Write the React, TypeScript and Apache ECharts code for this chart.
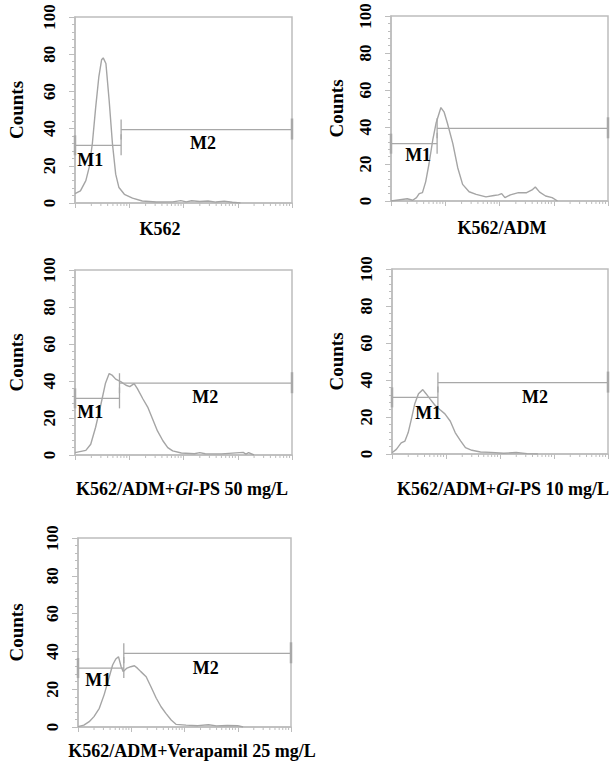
import React, { useEffect, useRef } from "react";
import * as echarts from "echarts";

// x values: log10 fluorescence (decades 0..4); y values: counts
const k562X = [0, 0.1, 0.2, 0.26, 0.32, 0.38, 0.44, 0.49, 0.52, 0.57, 0.63, 0.69, 0.75, 0.81, 0.91, 1.06, 1.24, 1.5, 1.8, 1.95, 2.05, 2.15, 2.3, 2.45, 2.6, 2.75, 2.9, 3.05];
const k562Y = [5, 6.5, 12, 19, 32, 51, 68, 77, 78, 75, 55, 32, 15.5, 8.3, 4.7, 2.6, 1.1, 0.5, 0.6, 1.3, 0.6, 1.2, 0.8, 1.1, 0.5, 1, 0.4, 0];

const admX = [0, 0.2, 0.3, 0.4, 0.47, 0.52, 0.58, 0.64, 0.7, 0.77, 0.83, 0.92, 0.98, 1.04, 1.14, 1.23, 1.32, 1.44, 1.57, 1.75, 1.9, 1.98, 2.04, 2.1, 2.2, 2.35, 2.5, 2.6, 2.66, 2.74, 2.85, 2.97, 3.07];
const admY = [0, 0.8, 1.2, 0.4, 1.8, 4, 4.5, 10.5, 20, 33, 42, 50.5, 48, 42, 31, 18, 9, 5, 3.6, 2.2, 3, 3.3, 4, 1.8, 3.3, 4.5, 4.5, 6, 7.6, 4.8, 2.7, 1.8, 0];

const gl50X = [0, 0.2, 0.29, 0.38, 0.48, 0.56, 0.63, 0.69, 0.75, 0.85, 0.94, 1.01, 1.09, 1.15, 1.25, 1.34, 1.43, 1.52, 1.62, 1.71, 1.8, 1.96, 2.2, 2.3, 2.4, 2.7, 3.1, 3.15, 3.2, 3.3];
const gl50Y = [1.3, 2.5, 5.8, 15, 27.7, 38.6, 44, 43, 41, 39.5, 37.7, 37, 38.6, 35.9, 30.4, 25.9, 19.5, 13, 7.7, 4, 2.2, 1.1, 0.7, 1.3, 0.7, 0.6, 1.4, 0.5, 1.3, 0];

const gl10X = [0, 0.08, 0.17, 0.24, 0.3, 0.36, 0.42, 0.49, 0.57, 0.63, 0.7, 0.8, 0.89, 0.98, 1.08, 1.17, 1.27, 1.36, 1.48, 1.64, 1.83, 2.07, 2.3, 2.5, 2.7];
const gl10Y = [0.7, 2.5, 6, 7, 11.6, 19, 27, 32.6, 34.8, 32.6, 29.9, 26.2, 23.9, 21.7, 17.7, 11.6, 7.1, 3.4, 2, 1.1, 0.9, 0.4, 0.8, 0.2, 0];

const verX = [0, 0.11, 0.21, 0.3, 0.4, 0.49, 0.58, 0.65, 0.71, 0.76, 0.81, 0.85, 0.91, 0.99, 1.06, 1.12, 1.18, 1.28, 1.37, 1.47, 1.56, 1.65, 1.75, 1.84, 2.03, 2.25, 2.45, 2.6, 2.8, 3.0, 3.1];
const verY = [0.2, 1, 2.8, 5.5, 9.9, 17, 25.8, 32.8, 36, 37.2, 31.9, 29.3, 31, 31.9, 32.4, 31, 29.3, 26.6, 21.3, 15.2, 10.7, 7.2, 3.7, 1.4, 1, 0.7, 1.2, 0.6, 0.8, 0.7, 0];

// gate markers: [from, to, level]
const k562Gates = [[0, 0.85, 31], [0.85, 4, 39.5]];
const admGates = [[0, 0.85, 31], [0.85, 4, 39.3]];
const gl50Gates = [[0, 0.82, 30.6], [0.82, 4, 38.8]];
const gl10Gates = [[0, 0.85, 30.6], [0.85, 4, 38.6]];
const verGates = [[0, 0.86, 31.2], [0.86, 4, 39]];
const gateNames = ["M1", "M2"];

const decades = [0, 1, 2, 3];
const minorMultipliers = [2, 3, 4, 5, 6, 7, 8, 9];

const FONT = '"Liberation Serif", "Times New Roman", serif';
const FRAME = "#bdbdbd";
const CURVE = "#a5a5a5";
const MARK = "#a8a8a8";

const panels = [
  { grid: { left: 75, top: 17, width: 217, height: 186 }, x: k562X, y: k562Y, gates: k562Gates,
    labelPos: [[0.28, 23.1], [2.36, 32.3]], showM2: true, nameGap: 49,
    title: "{b|K562}", titlePos: [160, 229] },
  { grid: { left: 391, top: 16, width: 217, height: 185 }, x: admX, y: admY, gates: admGates,
    labelPos: [[0.5, 24.9], [2.4, 31]], showM2: false, nameGap: 45,
    title: "{b|K562/ADM}", titlePos: [502, 228] },
  { grid: { left: 75, top: 270, width: 217, height: 185 }, x: gl50X, y: gl50Y, gates: gl50Gates,
    labelPos: [[0.28, 23.2], [2.4, 31.4]], showM2: true, nameGap: 49,
    title: "{b|K562/ADM+}{i|Gl}{b|-PS 50 mg/L}", titlePos: [182, 489] },
  { grid: { left: 392, top: 269, width: 216, height: 185 }, x: gl10X, y: gl10Y, gates: gl10Gates,
    labelPos: [[0.67, 22.2], [2.65, 30.8]], showM2: true, nameGap: 46,
    title: "{b|K562/ADM+}{i|Gl}{b|-PS 10 mg/L}", titlePos: [503, 489] },
  { grid: { left: 78, top: 538, width: 213, height: 189 }, x: verX, y: verY, gates: verGates,
    labelPos: [[0.38, 24.9], [2.4, 31.2]], showM2: true, nameGap: 52,
    title: "{b|K562/ADM+Verapamil 25 mg/L}", titlePos: [192, 751] },
];

const richStyles = {
  b: { fontFamily: FONT, fontWeight: "bold", fontSize: 18, fill: "#000" },
  i: { fontFamily: FONT, fontWeight: "bold", fontStyle: "italic", fontSize: 18, fill: "#000" },
};

export default function App() {
  const ref = useRef<HTMLDivElement>(null);
  useEffect(() => {
    if (!ref.current) return;
    const chart = echarts.init(ref.current, null, { renderer: "svg" });
    const minorPositions = decades.flatMap((d) => minorMultipliers.map((k) => d + Math.log10(k)));

    const series: any[] = [];
    panels.forEach((p, i) => {
      series.push({
        type: "line",
        xAxisIndex: i,
        yAxisIndex: i,
        data: p.x.map((v, j) => [v, p.y[j]]),
        showSymbol: false,
        symbol: "none",
        lineStyle: { color: CURVE, width: 1.4 },
        z: 3,
      });
      series.push({
        type: "custom",
        xAxisIndex: i,
        yAxisIndex: i,
        clip: false,
        silent: true,
        data: minorPositions.map((v) => [v, 0]),
        renderItem: (params: any, api: any) => {
          const pt = api.coord([api.value(0), 0]);
          return {
            type: "line",
            shape: { x1: pt[0], y1: pt[1], x2: pt[0], y2: pt[1] + 3 },
            style: { stroke: FRAME, lineWidth: 1 },
          };
        },
      });
      series.push({
        type: "custom",
        xAxisIndex: i,
        yAxisIndex: i,
        clip: false,
        silent: true,
        data: p.gates.map((g, j) => [g[0], g[1], g[2], p.labelPos[j][0], p.labelPos[j][1]]),
        renderItem: (params: any, api: any) => {
          const idx = params.dataIndex;
          const from = api.value(0);
          const to = api.value(1);
          const level = api.value(2);
          const a = api.coord([from, level]);
          const b = api.coord([to, level]);
          const lp = api.coord([api.value(3), api.value(4)]);
          const children: any[] = [
            { type: "line", shape: { x1: a[0], y1: a[1], x2: b[0], y2: b[1] }, style: { stroke: MARK, lineWidth: 1.3 } },
            { type: "line", shape: { x1: a[0], y1: a[1] - 10, x2: a[0], y2: a[1] + 10 }, style: { stroke: MARK, lineWidth: from === 0 ? 2.5 : 1.3 } },
            { type: "line", shape: { x1: b[0], y1: b[1] - 11, x2: b[0], y2: b[1] + 10 }, style: { stroke: MARK, lineWidth: to === 4 ? 2.5 : 1.3 } },
          ];
          if (idx === 0 || p.showM2) {
            children.push({
              type: "text",
              x: lp[0],
              y: lp[1],
              style: {
                text: gateNames[idx],
                font: `bold 18px ${FONT}`,
                fill: "#000",
                align: "center",
                verticalAlign: "middle",
              },
            });
          }
          return { type: "group", children };
        },
        z: 4,
      });
    });

    const option: any = {
      animation: false,
      backgroundColor: "#fff",
      grid: panels.map((p) => ({ ...p.grid, show: true, borderColor: FRAME, borderWidth: 1.5, backgroundColor: "transparent" })),
      xAxis: panels.map((p, i) => ({
        gridIndex: i,
        type: "value",
        min: 0,
        max: 4,
        interval: 1,
        axisLine: { show: true, lineStyle: { color: FRAME, width: 1.5 } },
        axisTick: { show: true, length: 5, lineStyle: { color: FRAME, width: 1 } },
        axisLabel: { show: false },
        splitLine: { show: false },
      })),
      yAxis: panels.map((p, i) => ({
        gridIndex: i,
        type: "value",
        min: 0,
        max: 100,
        interval: 20,
        name: "Counts",
        nameLocation: "middle",
        nameRotate: 90,
        nameGap: p.nameGap,
        nameTextStyle: { fontFamily: FONT, fontWeight: "bold", fontSize: 19, color: "#000" },
        axisLine: { show: true, lineStyle: { color: FRAME, width: 1.5 } },
        axisTick: { show: true, length: 6, lineStyle: { color: FRAME, width: 1 } },
        minorTick: { show: true, splitNumber: 5, length: 3, lineStyle: { color: FRAME, width: 1 } },
        axisLabel: {
          show: true,
          rotate: 90,
          margin: 17,
          fontFamily: FONT,
          fontWeight: "bold",
          fontSize: 17,
          color: "#000",
        },
        splitLine: { show: false },
        minorSplitLine: { show: false },
      })),
      graphic: panels.map((p) => ({
        type: "text",
        x: p.titlePos[0],
        y: p.titlePos[1],
        style: {
          text: p.title,
          rich: richStyles,
          align: "center",
          verticalAlign: "middle",
        },
      })),
      series,
    };
    chart.setOption(option);
    return () => chart.dispose();
  }, []);
  return (
    <div
      ref={ref}
      style={{ position: "absolute", left: 0, top: 0, width: 611, height: 764, background: "#fff" }}
    />
  );
}
